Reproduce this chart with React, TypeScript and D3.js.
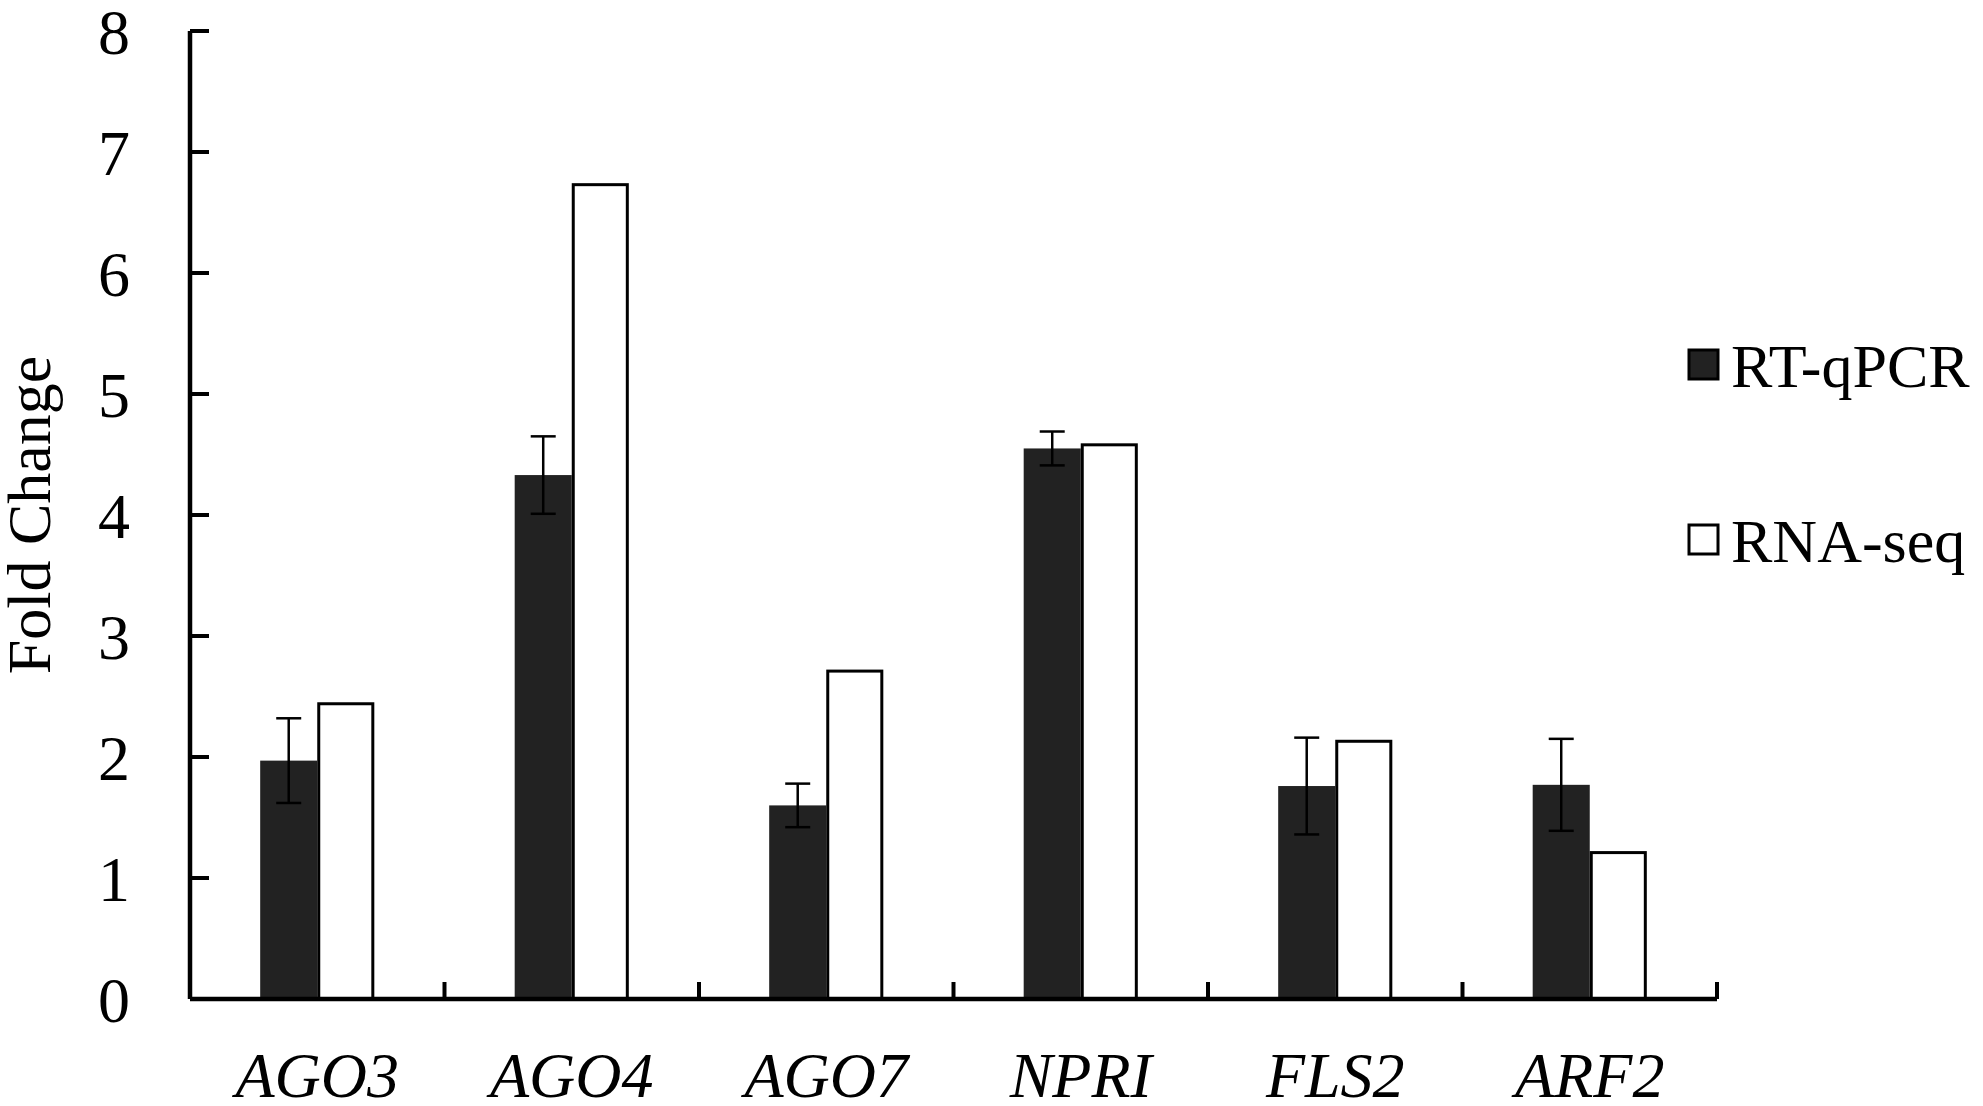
import { useMemo } from 'react';
import * as d3 from 'd3';

const W = 1983;
const H = 1106;
const MARGIN = { top: 31, right: 266, bottom: 107, left: 190 };
const FONT = '"Times New Roman", "Liberation Serif", serif';

const genes = ['AGO3', 'AGO4', 'AGO7', 'NPRI', 'FLS2', 'ARF2'];
const series = ['RT-qPCR', 'RNA-seq'];
const qpcr = [1.97, 4.33, 1.6, 4.55, 1.76, 1.77];
const qpcrErr = [0.35, 0.32, 0.18, 0.14, 0.4, 0.38];
const rnaSeq = [2.44, 6.73, 2.71, 4.58, 2.13, 1.21];
const yTicks = [0, 1, 2, 3, 4, 5, 6, 7, 8];

const color = { dark: '#222222', axis: '#000000' };

const App = () => {
  const boundsW = W - MARGIN.left - MARGIN.right;
  const boundsH = H - MARGIN.top - MARGIN.bottom;

  const x0 = useMemo(() => d3.scaleBand().domain(genes).range([0, boundsW]).padding(0), [boundsW]);
  // two bars centred in each gene band
  const x1 = useMemo(
    () => d3.scaleBand().domain(series).range([0, x0.bandwidth()]).paddingInner(0).paddingOuter(1.23),
    [x0],
  );
  const y = useMemo(() => d3.scaleLinear().domain([0, 8]).range([boundsH, 0]), [boundsH]);

  const capW = 25;
  const legendRows = [
    { label: series[0], fill: color.dark, y: 365 },
    { label: series[1], fill: '#ffffff', y: 540 },
  ];

  return (
    <svg width={W} height={H} style={{ position: 'absolute', left: 0, top: 0, background: '#fff' }}>
      <g transform={`translate(${MARGIN.left},${MARGIN.top})`}>
        {/* bars */}
        {genes.map((g, i) => {
          const gx = x0(g) || 0;
          const bx = gx + (x1(series[0]) || 0);
          const wx = gx + (x1(series[1]) || 0);
          const bw = x1.bandwidth();
          const cx = bx + bw / 2;
          return (
            <g key={g}>
              <rect x={bx} y={y(qpcr[i])} width={bw} height={y(0) - y(qpcr[i])} fill={color.dark} />
              <rect
                x={wx + 1.5}
                y={y(rnaSeq[i])}
                width={bw - 3}
                height={y(0) - y(rnaSeq[i])}
                fill="#fff"
                stroke={color.axis}
                strokeWidth={3}
              />
              <g stroke={color.axis} strokeWidth={2.5}>
                <line x1={cx} x2={cx} y1={y(qpcr[i] + qpcrErr[i])} y2={y(qpcr[i] - qpcrErr[i])} />
                <line x1={cx - capW / 2} x2={cx + capW / 2} y1={y(qpcr[i] + qpcrErr[i])} y2={y(qpcr[i] + qpcrErr[i])} />
                <line x1={cx - capW / 2} x2={cx + capW / 2} y1={y(qpcr[i] - qpcrErr[i])} y2={y(qpcr[i] - qpcrErr[i])} />
              </g>
            </g>
          );
        })}

        {/* y axis */}
        <line x1={0} x2={0} y1={y(8)} y2={y(0)} stroke={color.axis} strokeWidth={4.5} />
        {yTicks.map(t => (
          <g key={t}>
            <line x1={0} x2={19} y1={y(t)} y2={y(t)} stroke={color.axis} strokeWidth={4} />
            <text
              x={-76}
              y={y(t)}
              dy="0.36em"
              textAnchor="middle"
              fontFamily={FONT}
              fontSize={64}
              fill={color.axis}
            >
              {t}
            </text>
          </g>
        ))}

        {/* x axis */}
        <line x1={0} x2={boundsW} y1={y(0)} y2={y(0)} stroke={color.axis} strokeWidth={4.5} />
        {[...genes.map(g => x0(g) || 0), boundsW].map((v, i) => (
          <line key={i} x1={v} x2={v} y1={y(0)} y2={y(0) - 17} stroke={color.axis} strokeWidth={4} />
        ))}
        {genes.map(g => (
          <text
            key={g}
            x={(x0(g) || 0) + x0.bandwidth() / 2}
            y={boundsH + 98}
            textAnchor="middle"
            fontFamily={FONT}
            fontStyle="italic"
            fontSize={64}
            fill={color.axis}
          >
            {g}
          </text>
        ))}
      </g>

      {/* y axis title */}
      <text
        transform={`translate(50,${MARGIN.top + boundsH / 2}) rotate(-90)`}
        textAnchor="middle"
        fontFamily={FONT}
        fontSize={62}
        fill={color.axis}
      >
        Fold Change
      </text>

      {/* legend */}
      {legendRows.map(r => (
        <g key={r.label}>
          <rect x={1689} y={r.y - 15} width={29} height={29} fill={r.fill} stroke={color.axis} strokeWidth={3} />
          <text x={1731} y={r.y} dy="0.35em" fontFamily={FONT} fontSize={62} fill={color.axis}>
            {r.label}
          </text>
        </g>
      ))}
    </svg>
  );
};

export default App;
